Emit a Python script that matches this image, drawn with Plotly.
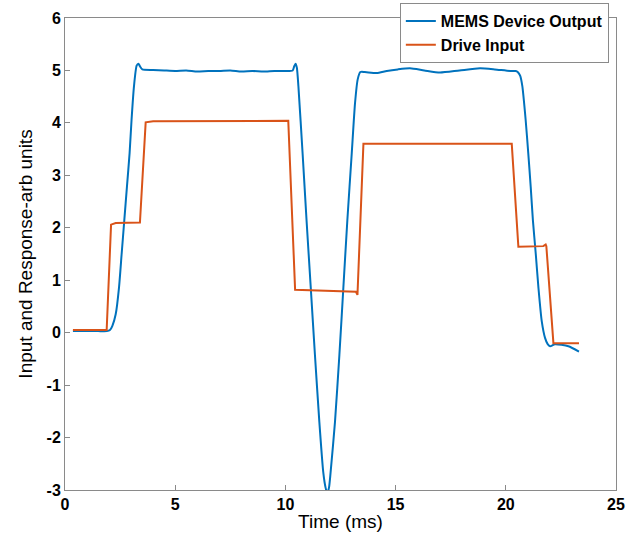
import plotly.graph_objects as go

# MEMS device output (blue)
mems_t = [0.36, 1.0, 1.5, 1.9, 2.04, 2.15, 2.30, 2.45, 2.57, 2.69, 2.81, 2.93, 3.02, 3.13, 3.25, 3.33,
          3.40, 3.51, 4.0, 4.5, 5.0, 5.5, 6.0, 6.5, 7.0, 7.5, 8.0, 8.5, 9.0, 9.5, 10.0, 10.33, 10.40,
          10.46, 10.52, 10.59, 10.78, 10.96, 11.15, 11.34, 11.54, 11.72, 11.82, 11.90, 11.98, 12.05,
          12.25, 12.45, 12.63, 12.81, 13.01, 13.16, 13.28, 13.40, 13.6, 14.14, 14.6, 15.1, 15.65, 16.3,
          17.01, 17.9, 18.83, 19.5, 20.19, 20.45, 20.54, 20.65, 20.75, 20.90, 21.02, 21.13, 21.23,
          21.36, 21.48, 21.63, 21.78, 21.9, 22.01, 22.23, 22.84, 23.32]
mems_v = [0.03, 0.03, 0.03, 0.03, 0.05, 0.13, 0.35, 0.86, 1.5, 2.14, 2.78, 3.42, 4.06, 4.7, 5.09, 5.13,
          5.08, 5.02, 5.01, 5.0, 4.99, 5.0, 4.98, 4.99, 4.99, 5.0, 4.98, 4.99, 4.98, 4.99, 4.99, 5.0, 5.08,
          5.13, 5.05, 4.7, 3.42, 2.14, 0.86, -0.42, -1.7, -2.67, -2.95, -3.06, -2.95, -2.67,
          -1.7, -0.42, 0.86, 2.14, 3.42, 4.38, 4.83, 4.97, 4.97, 4.95, 4.99, 5.02, 5.04, 5.0,
          4.96, 5.0, 5.04, 5.02, 4.99, 4.99, 4.97, 4.9, 4.7, 4.06, 3.42, 2.78, 2.14,
          1.5, 0.86, 0.22, -0.10, -0.22, -0.26, -0.22, -0.26, -0.36]

# Drive input (orange)
drive_t = [0.36, 1.89, 2.09, 2.3, 3.40, 3.66, 4.0, 10.13, 10.44, 13.2, 13.27, 13.54, 13.7, 20.27,
           20.57, 21.7, 21.81, 21.84, 22.16, 23.32]
drive_v = [0.05, 0.05, 2.06, 2.09, 2.1, 4.01, 4.03, 4.04, 0.82, 0.78, 0.72, 3.6, 3.6, 3.6,
           1.64, 1.65, 1.68, 1.65, -0.2, -0.2]

x_ticks = [0, 5, 10, 15, 20, 25]
y_ticks = [-3, -2, -1, 0, 1, 2, 3, 4, 5, 6]

fig = go.Figure()
fig.add_trace(go.Scatter(x=mems_t, y=mems_v, mode="lines", name="MEMS Device Output",
                         line=dict(color="#0072BD", width=2, shape="spline", smoothing=0.6)))
fig.add_trace(go.Scatter(x=drive_t, y=drive_v, mode="lines", name="Drive Input",
                         line=dict(color="#D95319", width=2)))

axis_common = dict(showline=True, mirror=True, linecolor="#8a8a8a", linewidth=1,
                   ticks="inside", ticklen=5, tickcolor="#8a8a8a", showgrid=False, zeroline=False,
                   tickfont=dict(family="Liberation Sans", size=16, color="black", weight="bold"))

fig.update_layout(
    width=637, height=542,
    margin=dict(l=65, r=21, t=18, b=52, autoexpand=False),
    paper_bgcolor="white", plot_bgcolor="white",
    xaxis=dict(range=[0, 25], tickvals=x_ticks, ticktext=[str(v) for v in x_ticks],
               title=dict(text="Time (ms)", font=dict(family="Liberation Sans", size=19, color="black"),
                          standoff=2), **axis_common),
    yaxis=dict(range=[-3, 6], tickvals=y_ticks, ticktext=[str(v) for v in y_ticks],
               title=dict(text="Input and Response-arb units",
                          font=dict(family="Liberation Sans", size=19, color="black"), standoff=8),
               **axis_common),
    legend=dict(x=0.987, xanchor="right", y=1.0318, yanchor="top", bgcolor="white",
                bordercolor="#8a8a8a", borderwidth=1, tracegroupgap=0, itemwidth=30,
                font=dict(family="Liberation Sans", size=16, color="black", weight="bold")),
    showlegend=True,
)

fig.write_html("out.html")
